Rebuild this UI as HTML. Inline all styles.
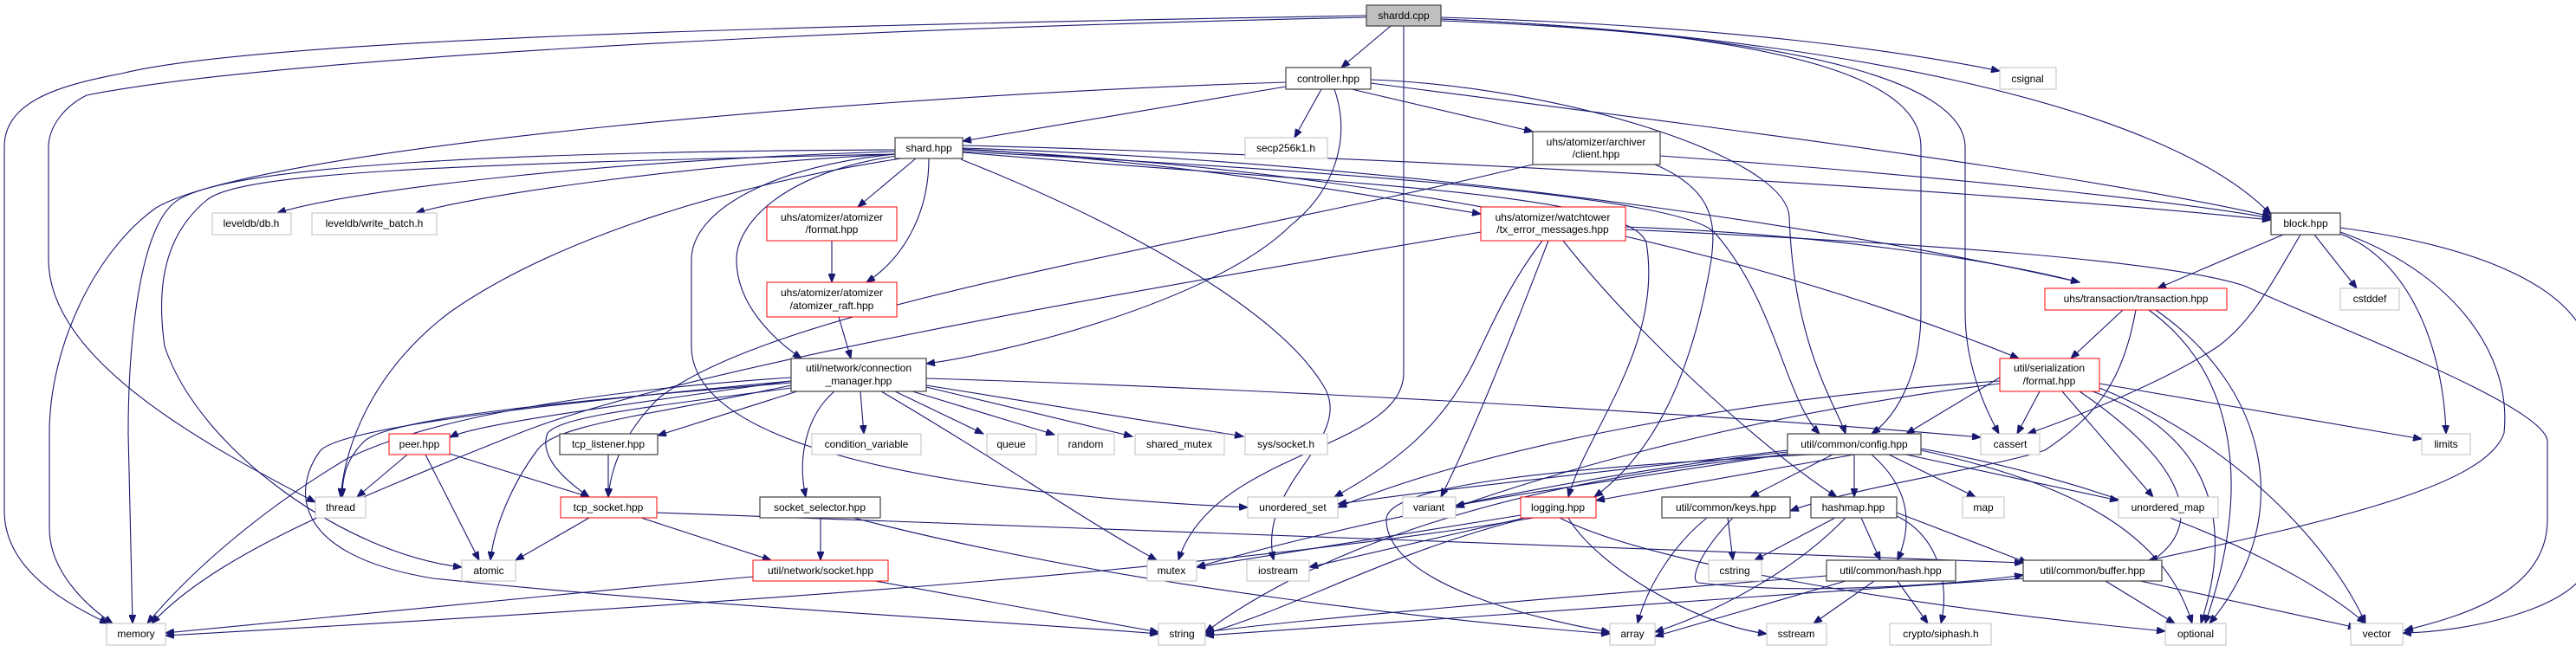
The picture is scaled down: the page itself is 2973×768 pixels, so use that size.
<!DOCTYPE html>
<html><head><meta charset="utf-8"><style>
html,body{margin:0;padding:0;background:#fff;}
svg{display:block;}
text{font-family:"Liberation Sans",Arial,sans-serif;font-size:12px;fill:#000;text-anchor:middle;}
.e{fill:none;stroke:#191970;stroke-width:1.1;marker-end:url(#a);}
.g{fill:#fff;stroke:#bfbfbf;stroke-width:1;}
.b{fill:#fff;stroke:#404040;stroke-width:1.2;}
.r{fill:#fff;stroke:#ff0000;stroke-width:1;}
</style></head><body>
<svg width="2973" height="768" viewBox="0 0 2973 768" xmlns="http://www.w3.org/2000/svg">
<defs><marker id="a" markerWidth="11" markerHeight="8" refX="10" refY="4" orient="auto" markerUnits="userSpaceOnUse"><path d="M0,0 L10,4 L0,8 Z" fill="#191970" stroke="#191970"/></marker></defs>
<g>
<path class="e" d="M1605 30 L1548 78"/>
<path class="e" d="M1663 20 C2000 30 2200 60 2308 82"/>
<path class="e" d="M1663 22 C2100 40 2500 120 2621 248"/>
<path class="e" d="M1663 22 C2100 40 2217 100 2217 170 L2217 360 C2217 430 2190 480 2160 501"/>
<path class="e" d="M1663 24 C2100 40 2268 100 2268 170 L2268 360 C2268 420 2290 470 2307 501"/>
<path class="e" d="M1577 18 C900 30 300 45 140 85 C60 100 5 120 5 170 L5 590 C5 650 60 690 125 720"/>
<path class="e" d="M1577 20 C900 35 300 70 100 110 C70 125 56 150 56 170 L56 300 C56 420 250 520 364 580"/>
<path class="e" d="M1620 30 L1620 430 C1620 520 1400 520 1360 647"/>
<path class="e" d="M1484 100 L1111 163"/>
<path class="e" d="M1525 103 L1494 159"/>
<path class="e" d="M1560 103 L1769 152"/>
<path class="e" d="M1582 96 C2000 150 2400 200 2621 250"/>
<path class="e" d="M1582 92 C1800 100 2060 180 2065 250 C2070 400 2120 470 2130 501"/>
<path class="e" d="M1540 103 C1560 160 1540 220 1490 260 C1400 350 1150 410 1069 420"/>
<path class="e" d="M1484 95 C1000 110 300 170 180 240 C110 290 57 400 57 500 L57 610 C57 660 100 700 130 720"/>
<path class="e" d="M1033 175 C700 185 400 220 320 246"/>
<path class="e" d="M1033 178 C800 190 550 225 480 246"/>
<path class="e" d="M1033 173 C600 175 250 190 200 235 C160 270 148 400 148 500 L153 720"/>
<path class="e" d="M1033 178 C500 190 280 200 240 230 C190 270 180 330 190 400 C230 520 400 640 533 655"/>
<path class="e" d="M1040 183 C800 220 620 290 520 360 C440 420 400 500 393 574"/>
<path class="e" d="M1057 183 L990 239"/>
<path class="e" d="M1072 183 C1072 250 1040 300 1000 326"/>
<path class="e" d="M1035 180 C900 200 850 260 850 300 C850 350 890 390 925 414"/>
<path class="e" d="M1035 178 C900 190 798 240 798 300 L798 400 C798 520 1100 570 1440 586"/>
<path class="e" d="M1109 184 C1300 260 1480 360 1530 450 C1560 510 1450 560 1470 647"/>
<path class="e" d="M1111 168 C1600 180 2300 220 2621 254"/>
<path class="e" d="M1111 172 C1400 190 1600 230 1709 247"/>
<path class="e" d="M1111 171 C1700 190 2200 280 2400 326"/>
<path class="e" d="M1111 173 C1700 200 2100 320 2330 414"/>
<path class="e" d="M1111 175 C1600 200 1950 230 1980 270 C2050 350 2060 460 2100 501"/>
<path class="e" d="M1111 176 C1500 210 1880 220 1900 280 C1920 400 1830 500 1810 574"/>
<path class="e" d="M1916 180 C2200 200 2500 230 2621 252"/>
<path class="e" d="M1910 190 C1980 220 1980 260 1975 300 C1950 450 1900 530 1840 574"/>
<path class="e" d="M1769 190 C1400 280 900 350 760 460 C720 500 705 540 702 574"/>
<path class="e" d="M1876 262 C2100 270 2300 300 2400 326"/>
<path class="e" d="M1876 265 C2200 280 2500 300 2590 330 C2700 380 2940 470 2940 510 L2940 600 C2940 680 2850 710 2775 728"/>
<path class="e" d="M1780 278 C1740 330 1720 380 1700 420 C1660 500 1600 540 1540 574"/>
<path class="e" d="M1787 278 C1740 400 1700 500 1663 574"/>
<path class="e" d="M1804 278 C1900 400 2050 530 2120 574"/>
<path class="e" d="M1709 268 C1400 320 800 420 600 500 C400 580 250 640 175 720"/>
<path class="e" d="M960 278 L960 326"/>
<path class="e" d="M968 366 L982 414"/>
<path class="e" d="M913 440 C700 470 550 490 519 505"/>
<path class="e" d="M920 452 L759 503"/>
<path class="e" d="M913 448 C750 470 650 480 632 500 C620 530 660 560 680 574"/>
<path class="e" d="M913 442 C700 460 450 480 420 510 C400 530 395 550 395 574"/>
<path class="e" d="M913 445 C750 480 640 490 620 520 C590 560 570 610 566 647"/>
<path class="e" d="M913 436 C700 450 500 480 400 530 C300 590 220 660 170 720"/>
<path class="e" d="M993 452 L997 501"/>
<path class="e" d="M1033 452 L1135 501"/>
<path class="e" d="M1053 452 L1217 502"/>
<path class="e" d="M1069 447 L1307 504"/>
<path class="e" d="M1069 445 L1435 504"/>
<path class="e" d="M1069 437 C1500 450 2000 480 2286 505"/>
<path class="e" d="M963 452 C930 480 920 530 930 574"/>
<path class="e" d="M1017 452 C1150 530 1250 600 1335 647"/>
<path class="e" d="M913 440 C700 460 400 490 370 520 C340 560 330 640 500 668 C800 700 1200 720 1337 732"/>
<path class="e" d="M470 525 L412 574"/>
<path class="e" d="M491 525 L553 647"/>
<path class="e" d="M519 524 L680 574"/>
<path class="e" d="M702 525 L702 574"/>
<path class="e" d="M680 598 L595 647"/>
<path class="e" d="M740 598 L890 647"/>
<path class="e" d="M758 592 C1500 620 2000 640 2335 650"/>
<path class="e" d="M947 598 L947 647"/>
<path class="e" d="M985 598 C1300 680 1700 720 1858 732"/>
<path class="e" d="M869 666 C600 690 300 720 191 731"/>
<path class="e" d="M1010 671 L1337 730"/>
<path class="e" d="M2063 520 C1900 540 1700 560 1544 582"/>
<path class="e" d="M2063 524 C1900 550 1750 570 1680 584"/>
<path class="e" d="M2140 525 L1842 578"/>
<path class="e" d="M2115 525 L2020 574"/>
<path class="e" d="M2140 525 L2140 574"/>
<path class="e" d="M2160 525 C2200 560 2210 600 2190 647"/>
<path class="e" d="M2180 525 L2280 574"/>
<path class="e" d="M2200 525 L2445 578"/>
<path class="e" d="M2217 520 C2400 560 2500 620 2530 720"/>
<path class="e" d="M2217 518 C2450 560 2650 650 2730 720"/>
<path class="e" d="M2090 525 C1800 540 1600 560 1600 600 C1600 680 1800 720 1858 730"/>
<path class="e" d="M2063 525 C1700 560 1500 650 1391 730"/>
<path class="e" d="M2063 522 C1800 550 1500 620 1381 655"/>
<path class="e" d="M1755 595 L1381 655"/>
<path class="e" d="M1760 598 L1511 655"/>
<path class="e" d="M1770 598 C1400 660 800 700 191 734"/>
<path class="e" d="M1810 598 C1840 650 1950 720 2039 732"/>
<path class="e" d="M1755 600 C1600 640 1500 700 1391 732"/>
<path class="e" d="M1800 598 C1900 650 2200 700 2499 729"/>
<path class="e" d="M1994 598 L2000 647"/>
<path class="e" d="M1970 598 C1930 630 1900 680 1890 720"/>
<path class="e" d="M2000 598 C1960 640 1950 670 1960 673 C2100 690 2300 670 2335 664"/>
<path class="e" d="M2118 598 L2025 647"/>
<path class="e" d="M2148 598 L2170 647"/>
<path class="e" d="M2130 598 C2080 650 2000 700 1910 730"/>
<path class="e" d="M2189 596 C2240 620 2250 680 2240 720"/>
<path class="e" d="M2189 592 L2340 650"/>
<path class="e" d="M2163 671 L2093 720"/>
<path class="e" d="M2190 671 L2225 720"/>
<path class="e" d="M2130 671 L1910 735"/>
<path class="e" d="M2108 665 C1800 690 1500 715 1391 730"/>
<path class="e" d="M2430 671 L2510 720"/>
<path class="e" d="M2470 671 L2720 725"/>
<path class="e" d="M2335 668 C2000 690 1600 720 1391 734"/>
<path class="e" d="M2635 271 L2490 333"/>
<path class="e" d="M2671 271 L2720 333"/>
<path class="e" d="M2655 271 C2620 330 2600 370 2560 400 C2500 440 2400 480 2340 501"/>
<path class="e" d="M2701 270 C2780 300 2820 400 2823 501"/>
<path class="e" d="M2701 268 C2820 310 2900 400 2890 500 C2870 560 2700 600 2480 647"/>
<path class="e" d="M2701 263 C2900 290 2990 350 2990 420 L2990 640 C2990 700 2850 730 2773 731"/>
<path class="e" d="M2450 358 L2390 414"/>
<path class="e" d="M2488 358 C2620 450 2650 600 2550 720"/>
<path class="e" d="M2480 358 C2580 430 2600 560 2545 720"/>
<path class="e" d="M2465 358 C2450 440 2420 480 2360 520 C2300 540 2150 560 2066 590"/>
<path class="e" d="M2354 452 L2328 501"/>
<path class="e" d="M2423 443 L2795 507"/>
<path class="e" d="M2380 452 L2485 574"/>
<path class="e" d="M2308 436 L2200 501"/>
<path class="e" d="M2415 452 C2550 500 2580 600 2540 720"/>
<path class="e" d="M2423 448 C2600 520 2700 650 2730 720"/>
<path class="e" d="M2400 452 C2500 520 2560 600 2480 650"/>
<path class="e" d="M2308 440 C2000 460 1700 520 1544 586"/>
<path class="e" d="M2308 443 C2000 480 1750 560 1680 586"/>
</g>
<g>
<rect x="1577" y="6" width="86" height="24" fill="#bfbfbf" stroke="#404040" stroke-width="1.2"/><text x="1620" y="22">shardd.cpp</text>
<rect class="b" x="1484" y="78" width="98" height="25"/><text x="1533" y="95">controller.hpp</text>
<rect class="g" x="2308" y="78" width="65" height="25"/><text x="2340" y="95">csignal</text>
<rect class="b" x="1033" y="159" width="78" height="24"/><text x="1072" y="175">shard.hpp</text>
<rect class="g" x="1437" y="159" width="95" height="24"/><text x="1484" y="175">secp256k1.h</text>
<rect class="b" x="1769" y="152" width="147" height="38"/><text x="1842" y="168">uhs/atomizer/archiver</text><text x="1842" y="182">/client.hpp</text>
<rect class="g" x="245" y="246" width="91" height="25"/><text x="290" y="262">leveldb/db.h</text>
<rect class="g" x="360" y="246" width="144" height="25"/><text x="432" y="262">leveldb/write_batch.h</text>
<rect class="b" x="2621" y="246" width="80" height="25"/><text x="2661" y="262">block.hpp</text>
<rect class="r" x="885" y="239" width="150" height="39"/><text x="960" y="255">uhs/atomizer/atomizer</text><text x="960" y="269">/format.hpp</text>
<rect class="r" x="1709" y="239" width="167" height="39"/><text x="1792" y="255">uhs/atomizer/watchtower</text><text x="1792" y="269">/tx_error_messages.hpp</text>
<rect class="r" x="2360" y="333" width="210" height="25"/><text x="2465" y="349">uhs/transaction/transaction.hpp</text>
<rect class="g" x="2701" y="333" width="68" height="25"/><text x="2735" y="349">cstddef</text>
<rect class="r" x="885" y="326" width="150" height="40"/><text x="960" y="342">uhs/atomizer/atomizer</text><text x="960" y="357">/atomizer_raft.hpp</text>
<rect class="b" x="913" y="414" width="156" height="38"/><text x="991" y="429">util/network/connection</text><text x="991" y="444">_manager.hpp</text>
<rect class="r" x="2308" y="414" width="115" height="38"/><text x="2365" y="429">util/serialization</text><text x="2365" y="444">/format.hpp</text>
<rect class="r" x="449" y="501" width="70" height="24"/><text x="484" y="517">peer.hpp</text>
<rect class="b" x="646" y="501" width="113" height="24"/><text x="702" y="517">tcp_listener.hpp</text>
<rect class="g" x="937" y="501" width="126" height="24"/><text x="1000" y="517">condition_variable</text>
<rect class="g" x="1139" y="501" width="57" height="24"/><text x="1167" y="517">queue</text>
<rect class="g" x="1221" y="501" width="65" height="24"/><text x="1253" y="517">random</text>
<rect class="g" x="1310" y="501" width="103" height="24"/><text x="1361" y="517">shared_mutex</text>
<rect class="g" x="1437" y="501" width="95" height="24"/><text x="1484" y="517">sys/socket.h</text>
<rect class="b" x="2063" y="501" width="154" height="24"/><text x="2140" y="517">util/common/config.hpp</text>
<rect class="g" x="2286" y="501" width="68" height="24"/><text x="2320" y="517">cassert</text>
<rect class="g" x="2795" y="501" width="56" height="24"/><text x="2823" y="517">limits</text>
<rect class="g" x="364" y="574" width="58" height="24"/><text x="393" y="590">thread</text>
<rect class="r" x="647" y="574" width="111" height="24"/><text x="702" y="590">tcp_socket.hpp</text>
<rect class="b" x="877" y="574" width="139" height="24"/><text x="946" y="590">socket_selector.hpp</text>
<rect class="g" x="1440" y="574" width="104" height="24"/><text x="1492" y="590">unordered_set</text>
<rect class="g" x="1619" y="574" width="61" height="24"/><text x="1649" y="590">variant</text>
<rect class="r" x="1755" y="574" width="87" height="24"/><text x="1798" y="590">logging.hpp</text>
<rect class="b" x="1918" y="574" width="148" height="24"/><text x="1992" y="590">util/common/keys.hpp</text>
<rect class="b" x="2090" y="574" width="99" height="24"/><text x="2139" y="590">hashmap.hpp</text>
<rect class="g" x="2265" y="574" width="48" height="24"/><text x="2289" y="590">map</text>
<rect class="g" x="2445" y="574" width="115" height="24"/><text x="2502" y="590">unordered_map</text>
<rect class="g" x="533" y="647" width="62" height="24"/><text x="564" y="663">atomic</text>
<rect class="r" x="869" y="647" width="156" height="24"/><text x="947" y="663">util/network/socket.hpp</text>
<rect class="g" x="1324" y="647" width="57" height="24"/><text x="1352" y="663">mutex</text>
<rect class="g" x="1439" y="647" width="72" height="24"/><text x="1475" y="663">iostream</text>
<rect class="g" x="1972" y="647" width="61" height="24"/><text x="2002" y="663">cstring</text>
<rect class="b" x="2108" y="647" width="149" height="24"/><text x="2182" y="663">util/common/hash.hpp</text>
<rect class="b" x="2335" y="647" width="160" height="24"/><text x="2415" y="663">util/common/buffer.hpp</text>
<rect class="g" x="123" y="720" width="68" height="25"/><text x="157" y="736">memory</text>
<rect class="g" x="1337" y="720" width="54" height="25"/><text x="1364" y="736">string</text>
<rect class="g" x="1858" y="720" width="52" height="25"/><text x="1884" y="736">array</text>
<rect class="g" x="2039" y="720" width="69" height="25"/><text x="2073" y="736">sstream</text>
<rect class="g" x="2181" y="720" width="117" height="25"/><text x="2240" y="736">crypto/siphash.h</text>
<rect class="g" x="2499" y="720" width="70" height="25"/><text x="2534" y="736">optional</text>
<rect class="g" x="2713" y="720" width="60" height="25"/><text x="2743" y="736">vector</text>
</g>
</svg>
</body></html>
